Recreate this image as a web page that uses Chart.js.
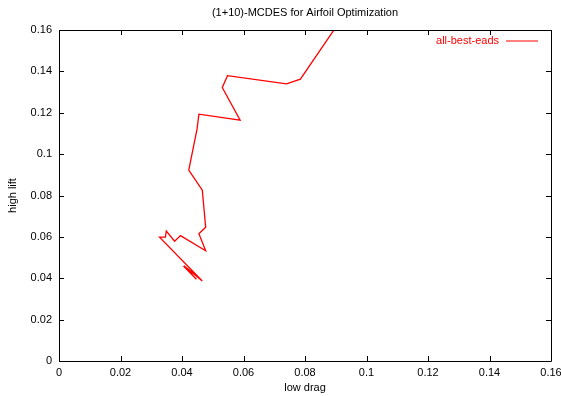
<!DOCTYPE html>
<html>
<head>
<meta charset="utf-8">
<script src="https://cdn.jsdelivr.net/npm/chart.js@4/dist/chart.umd.min.js"></script>
<style>
html, body { margin: 0; padding: 0; background: #fff; }
</style>
</head>
<body>
<canvas id="airfoilChart" width="561" height="396"></canvas>
<script>
// data (low drag vs high lift)
var dragValues = [0.0901, 0.0785, 0.0740, 0.0548, 0.0531, 0.0589, 0.0455, 0.0449, 0.0422, 0.0466,
                  0.0477, 0.0455, 0.0477, 0.0395, 0.0376, 0.0349, 0.0346, 0.0327, 0.0466, 0.0406,
                  0.0454, 0.0415, 0.0447, 0.0428, 0.0444];
var liftValues = [0.1615, 0.1362, 0.1340, 0.1379, 0.1322, 0.1164, 0.1193, 0.1122, 0.0923, 0.0826,
                  0.0647, 0.0615, 0.0533, 0.0606, 0.0579, 0.0628, 0.0599, 0.0599, 0.0387, 0.0460,
                  0.0405, 0.0444, 0.0395, 0.0424, 0.0400];
var seriesName = "all-best-eads";
var chartTitle = "(1+10)-MCDES for Airfoil Optimization";
var xLabel = "low drag";
var yLabel = "high lift";
var axisMin = 0, axisMax = 0.16, axisStep = 0.02;

var fontFamily = '"Liberation Sans", Arial, sans-serif';

//frame, inward ticks on all sides, title and key like gnuplot
var gnuplotFrame = {
    id: 'gnuplotFrame',
    afterDraw: function(chart) {
        var ctx = chart.ctx;
        var a = chart.chartArea;
        var xs = chart.scales.x, ys = chart.scales.y;
        var tl = 5;
        ctx.save();
        ctx.strokeStyle = '#000';
        ctx.lineWidth = 1;
        ctx.beginPath();
        ctx.rect(a.left + 0.5, a.top + 0.5, a.right - a.left, a.bottom - a.top);
        xs.ticks.forEach(function(t) {
            var px = Math.round(xs.getPixelForValue(t.value)) + 0.5;
            ctx.moveTo(px, a.bottom); ctx.lineTo(px, a.bottom - tl);
            ctx.moveTo(px, a.top); ctx.lineTo(px, a.top + tl);
        });
        ys.ticks.forEach(function(t) {
            var py = Math.round(ys.getPixelForValue(t.value)) + 0.5;
            ctx.moveTo(a.left, py); ctx.lineTo(a.left + tl, py);
            ctx.moveTo(a.right, py); ctx.lineTo(a.right - tl, py);
        });
        ctx.stroke();

        // title
        ctx.fillStyle = '#000';
        ctx.font = '11px ' + fontFamily;
        ctx.textAlign = 'center';
        ctx.textBaseline = 'middle';
        ctx.fillText(chartTitle, (a.left + a.right) / 2, 13);

        // key
        ctx.fillStyle = '#ff0000';
        ctx.textAlign = 'right';
        ctx.fillText(seriesName, 499, 41);
        ctx.strokeStyle = '#ff0000';
        ctx.beginPath();
        ctx.moveTo(506, 41); ctx.lineTo(538, 41);
        ctx.stroke();
        ctx.restore();
    }
};

function tickText(v) {
    return String(Number(v.toFixed(2)));
}

new Chart("airfoilChart", {
    type: "scatter",
    data: {
        datasets: [{
            label: seriesName,
            data: dragValues.map(function(d, i) { return {x: d, y: liftValues[i]}; }),
            showLine: true,
            borderColor: '#ff0000',
            backgroundColor: '#ff0000',
            borderWidth: 1.3,
            pointRadius: 0,
            tension: 0
        }]
    },
    options: {
        responsive: false,
        animation: false,
        layout: {
            padding: { top: 30, right: 10, left: 0, bottom: 0 }
        },
        plugins: {
            legend: { display: false },
            title: { display: false },
            tooltip: { enabled: false }
        },
        scales: {
            x: {
                type: 'linear',
                min: axisMin,
                max: axisMax,
                grid: { display: false, drawTicks: false },
                border: { display: false },
                ticks: {
                    stepSize: axisStep,
                    padding: 5,
                    maxRotation: 0,
                    color: '#000',
                    font: { family: fontFamily, size: 11 },
                    callback: tickText
                },
                title: {
                    display: true,
                    text: xLabel,
                    color: '#000',
                    font: { family: fontFamily, size: 11 },
                    padding: { top: 0, bottom: 1 }
                },
                afterFit: function(scale) {
                    scale.height = 35;
                    //let the last label hang over like gnuplot does
                    scale.paddingLeft = 0;
                    scale.paddingRight = 0;
                }
            },
            y: {
                type: 'linear',
                min: axisMin,
                max: axisMax,
                grid: { display: false, drawTicks: false },
                border: { display: false },
                ticks: {
                    stepSize: axisStep,
                    padding: 7,
                    color: '#000',
                    font: { family: fontFamily, size: 11 },
                    callback: tickText
                },
                title: {
                    display: true,
                    text: yLabel,
                    color: '#000',
                    font: { family: fontFamily, size: 11 },
                    padding: { top: 6, bottom: 0 }
                },
                afterFit: function(scale) { scale.width = 59; }
            }
        }
    },
    plugins: [gnuplotFrame]
});
</script>
</body>
</html>
